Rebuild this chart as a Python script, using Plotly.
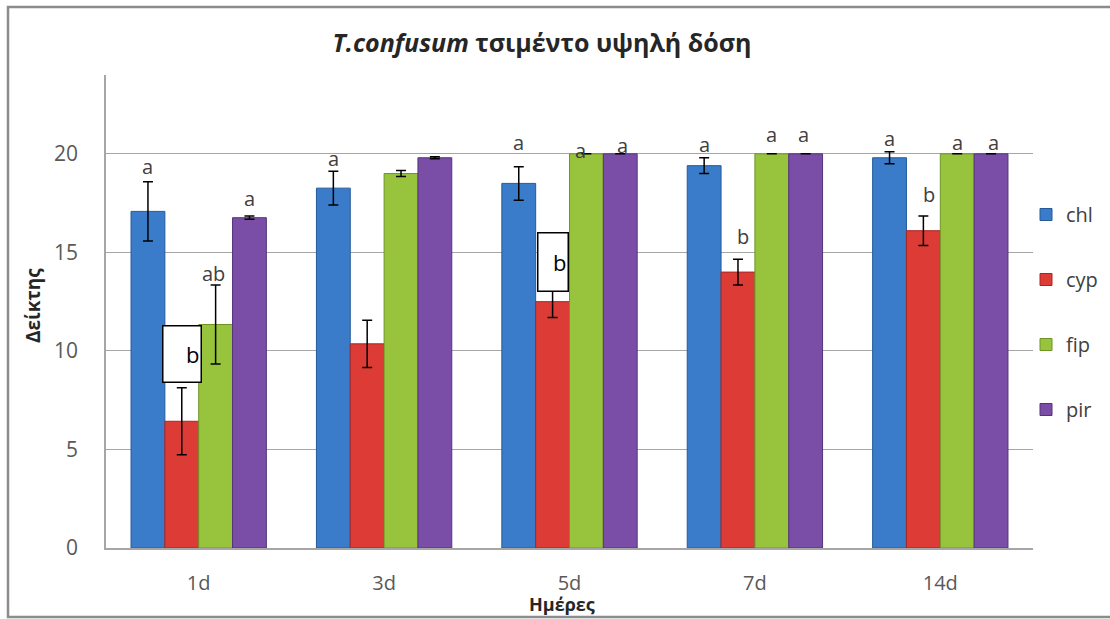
import plotly.graph_objects as go

# data
days = ["1d", "3d", "5d", "7d", "14d"]
series = ["chl", "cyp", "fip", "pir"]
colors = ["#3a7cc9", "#dd3b35", "#98c33d", "#7a4ea6"]
edges = ["#245a9a", "#a82723", "#6f9426", "#55337a"]

chl = [17.08, 18.26, 18.5, 19.4, 19.8]
cyp = [6.43, 10.36, 12.5, 14.0, 16.1]
fip = [11.34, 19.0, 20.0, 20.0, 20.0]
pir = [16.76, 19.8, 20.0, 20.0, 20.0]

chl_err = [1.5, 0.85, 0.85, 0.4, 0.3]
cyp_err = [1.7, 1.2, 0.8, 0.65, 0.75]
fip_err = [2.0, 0.15, 0.0, 0.0, 0.0]
pir_err = [0.08, 0.05, 0.0, 0.0, 0.0]

values = [chl, cyp, fip, pir]
errors = [chl_err, cyp_err, fip_err, pir_err]

# significance letters: (day, series index, text, y centre, extra px shift)
letters = [
    ("1d", 0, "a", 19.37, 0),
    ("1d", 2, "ab", 13.95, -2),
    ("1d", 3, "a", 17.72, 0),
    ("3d", 0, "a", 19.75, 0),
    ("5d", 0, "a", 20.6, 0),
    ("5d", 2, "a", 20.18, -6),
    ("5d", 3, "a", 20.4, 2),
    ("7d", 0, "a", 20.45, 0),
    ("7d", 1, "b", 15.8, 5),
    ("7d", 2, "a", 21.0, 0),
    ("7d", 3, "a", 21.0, -2),
    ("14d", 0, "a", 20.76, 0),
    ("14d", 1, "b", 17.92, 6),
    ("14d", 2, "a", 20.6, 0),
    ("14d", 3, "a", 20.6, 2),
]
# boxed letters on the cyp bars
boxes = [("1d", "b", 9.82, 40, 58), ("5d", "b", 14.53, 32, 60)]

W, H = 1110, 619
L, R, T, B = 106, 77, 75, 71
plot_w = W - L - R
plot_h = H - T - B
bar_px = plot_w / len(days) * 0.73 / 4

fig = go.Figure()
for i, name in enumerate(series):
    fig.add_trace(go.Bar(
        x=days,
        y=values[i],
        name=name,
        legendgroup=name,
        marker=dict(color=colors[i], line=dict(color=edges[i], width=1)),
        error_y=dict(type="data", array=errors[i], color="black",
                     thickness=1.5, width=5),
    ))

font = "Open Sans, Noto Sans, DejaVu Sans, sans-serif"

annotations = []
for day, idx, txt, yv, dx in letters:
    annotations.append(dict(
        x=day, y=yv, xref="x", yref="y", text=txt, showarrow=False,
        xshift=(idx - 1.5) * bar_px + dx, yanchor="middle",
        font=dict(size=20, color="#404040", family=font),
    ))
for day, txt, yv, bw, bh in boxes:
    annotations.append(dict(
        x=day, y=yv, xref="x", yref="y", text=txt, showarrow=False,
        xshift=-0.5 * bar_px, yanchor="middle", align="right",
        width=bw - 5, height=bh - 5, valign="middle",
        bgcolor="white", bordercolor="black", borderwidth=1.5, borderpad=1,
        font=dict(size=22, color="black", family=font),
    ))

# axis titles
annotations.append(dict(
    x=(33 - L) / plot_w, y=(H - B - 306) / plot_h, xref="paper", yref="paper",
    xanchor="center", yanchor="middle",
    text="<b>Δείκτης</b>", textangle=-90, showarrow=False,
    font=dict(size=19, color="#262626", family=font),
))
annotations.append(dict(
    x=(562 - L) / plot_w, y=(H - B - 604) / plot_h, xref="paper", yref="paper",
    xanchor="center", yanchor="middle",
    text="<b>Ημέρες</b>", showarrow=False,
    font=dict(size=18, color="#262626", family=font),
))

fig.update_layout(
    width=W, height=H,
    margin=dict(l=L, r=R, t=T, b=B, autoexpand=False),
    paper_bgcolor="white",
    plot_bgcolor="white",
    barmode="group",
    bargap=0.27,
    bargroupgap=0,
    title=dict(
        text="<b><i>T.confusum</i> τσιμέντο υψηλή δόση</b>",
        x=542 / W, xanchor="center", y=1 - 43 / H, yanchor="middle",
        font=dict(size=25, color="#262626", family=font),
    ),
    font=dict(family=font, color="#595959"),
    xaxis=dict(
        showline=True, linecolor="#a6a6a6", linewidth=1.5,
        ticks="", tickfont=dict(size=20, color="#595959"),
        ticklabelstandoff=16,
    ),
    yaxis=dict(
        range=[0, 24], tickvals=[0, 5, 10, 15, 20],
        showgrid=True, gridcolor="#a6a6a6", gridwidth=1,
        showline=True, linecolor="#a6a6a6", linewidth=1.5,
        zeroline=False, ticks="",
        tickfont=dict(size=21, color="#595959"),
        ticklabelstandoff=22,
    ),
    legend=dict(
        x=(1026 - L) / plot_w, xanchor="left",
        y=(H - B - 195) / plot_h, yanchor="top",
        tracegroupgap=36, itemwidth=30,
        font=dict(size=20, color="#404040", family=font),
        bgcolor="rgba(0,0,0,0)",
    ),
    annotations=annotations,
    shapes=[dict(
        type="rect", xref="paper", yref="paper",
        x0=(8 - L) / plot_w, x1=(1118 - L) / plot_w,
        y0=(H - B - 617) / plot_h, y1=(H - B - 7) / plot_h,
        line=dict(color="#8c8c8c", width=2.5), layer="below",
    )],
)

fig.write_html("out.html", config={"displayModeBar": False},
               post_script="document.body.style.margin='0';")
